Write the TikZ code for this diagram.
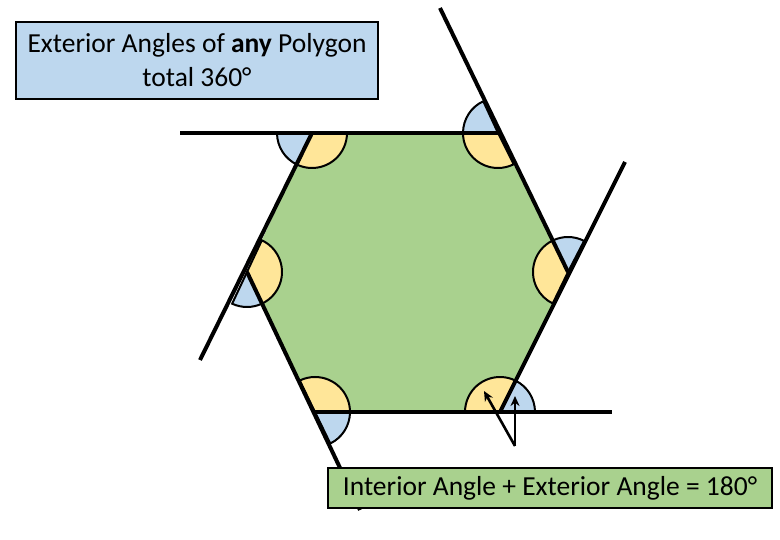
\documentclass[tikz,border=0pt]{standalone}
\usepackage{fontspec}
\setmainfont{Carlito}
\usetikzlibrary{arrows.meta}
\definecolor{hexg}{HTML}{A9D18E}
\definecolor{inty}{HTML}{FFE699}
\definecolor{extb}{HTML}{BDD7EE}
\begin{document}
\begin{tikzpicture}[x=1pt,y=-1pt,
  edge/.style={line width=4pt},
  sect/.style={draw=black,line width=2pt},
  lbl/.style={draw=black,line width=2pt,font=\fontsize{27.5}{34}\selectfont,align=center,inner sep=2pt},
  ptr/.style={line width=2.6pt,-{Stealth[length=10pt,width=9pt]}}]
\useasboundingbox (0,0) rectangle (780,540);
\coordinate (TL) at (312,133); \coordinate (TR) at (498,133);
\coordinate (R) at (568,272); \coordinate (BR) at (500,412);
\coordinate (BL) at (315,412); \coordinate (L) at (247,272);
\coordinate (e1) at (180,133); \coordinate (e2) at (440,8);
\coordinate (e3) at (625,162); \coordinate (e4) at (612,412);
\coordinate (e5) at (360,510); \coordinate (e6) at (200,360);
\coordinate (ap) at (515,446);
\fill[hexg] (TL)--(TR)--(R)--(BR)--(BL)--(L)--cycle;
\def\sec#1#2#3#4{\filldraw[sect,fill=#1] (#2) -- ++(-#3:35) arc[start angle=-#3,end angle=-#4,radius=35] -- cycle;}
\sec{extb}{TL}{180}{244.9}
\sec{inty}{TL}{244.9}{360}
\sec{extb}{TR}{114.9}{180}
\sec{inty}{TR}{180}{296.7}
\sec{extb}{R}{62.6}{116.7}
\sec{inty}{R}{116.7}{244.1}
\sec{extb}{BR}{0}{64.1}
\sec{inty}{BR}{64.1}{180}
\sec{extb}{BL}{295.9}{360}
\sec{inty}{BL}{0}{115.9}
\sec{extb}{L}{244.9}{295.9}
\sec{inty}{L}{295.9}{424.9}
\draw[edge] (e1)--(TR);
\draw[edge] (e2)--(R);
\draw[edge] (e3)--(BR);
\draw[edge] (BL)--(e4);
\draw[edge] (e6)--(TL);
\draw[edge] (L)--(e5);
\draw[ptr] (ap)--(484,391);
\draw[ptr] (ap)--(515,396);
\node[lbl,fill=extb,minimum width=362pt,minimum height=77pt] (t1) at (197,60.5) {Exterior Angles of \textbf{any} Polygon\\total 360°};
\node[lbl,fill=hexg,minimum width=444pt,minimum height=40pt] (t2) at (550,488) {Interior Angle + Exterior Angle = 180°};
\end{tikzpicture}
\end{document}
